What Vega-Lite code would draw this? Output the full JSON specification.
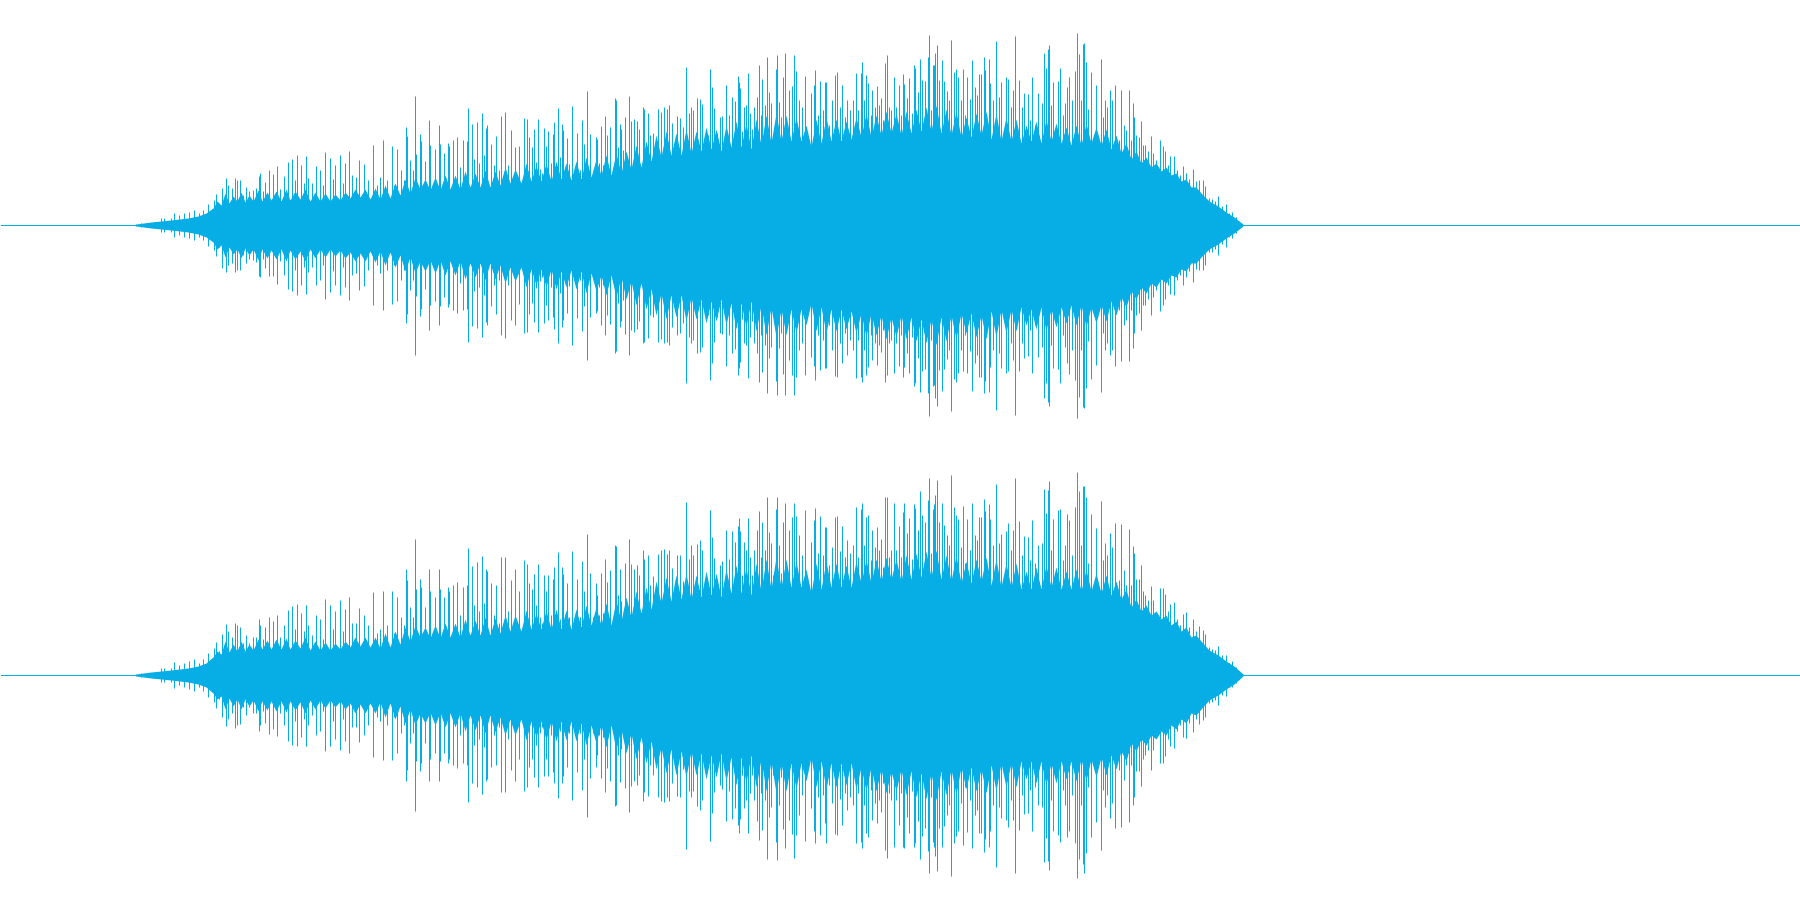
{"$schema":"https://vega.github.io/schema/vega-lite/v6.json","padding":0,"background":"white","spacing":0,"config":{"view":{"stroke":null},"concat":{"spacing":0}},
"datasets":{"base":[{"level":0}],"body":[
{"x":135,"a":1,"b":-1,"c":1,"d":-1},{"x":150,"a":3,"b":-3,"c":3,"d":-3},{"x":170,"a":5,"b":-5,"c":5,"d":-5},{"x":187,"a":7,"b":-7,"c":7,"d":-7},{"x":197,"a":9,"b":-9,"c":9,"d":-9},{"x":205,"a":12,"b":-12,"c":12,"d":-12},{"x":212,"a":17,"b":-17,"c":18,"d":-18},{"x":216,"a":24,"b":-24,"c":24,"d":-24},{"x":220,"a":20,"b":-20,"c":21,"d":-21},{"x":224,"a":32,"b":-32,"c":34,"d":-34},{"x":228,"a":22,"b":-22,"c":23,"d":-23},{"x":232,"a":29,"b":-29,"c":31,"d":-31},{"x":236,"a":24,"b":-24,"c":24,"d":-24},{"x":240,"a":33,"b":-33,"c":34,"d":-34},{"x":244,"a":23,"b":-23,"c":24,"d":-24},{"x":248,"a":30,"b":-30,"c":31,"d":-31},{"x":252,"a":24,"b":-24,"c":25,"d":-25},{"x":257,"a":35,"b":-35,"c":36,"d":-36},{"x":261,"a":24,"b":-24,"c":26,"d":-26},{"x":266,"a":33,"b":-33,"c":35,"d":-35},{"x":270,"a":25,"b":-25,"c":26,"d":-26},{"x":275,"a":34,"b":-34,"c":36,"d":-36},{"x":280,"a":24,"b":-24,"c":26,"d":-26},{"x":285,"a":36,"b":-36,"c":37,"d":-37},{"x":289,"a":25,"b":-25,"c":26,"d":-26},{"x":294,"a":34,"b":-34,"c":35,"d":-35},{"x":299,"a":26,"b":-26,"c":27,"d":-27},{"x":304,"a":36,"b":-36,"c":38,"d":-38},{"x":309,"a":24,"b":-24,"c":25,"d":-25},{"x":314,"a":33,"b":-33,"c":34,"d":-34},{"x":319,"a":24,"b":-24,"c":25,"d":-25},{"x":324,"a":32,"b":-32,"c":33,"d":-33},{"x":329,"a":24,"b":-24,"c":25,"d":-25},{"x":334,"a":31,"b":-31,"c":32,"d":-32},{"x":339,"a":25,"b":-25,"c":26,"d":-26},{"x":344,"a":33,"b":-33,"c":34,"d":-34},{"x":349,"a":27,"b":-27,"c":28,"d":-28},{"x":354,"a":36,"b":-36,"c":38,"d":-38},{"x":359,"a":28,"b":-28,"c":29,"d":-29},{"x":364,"a":36,"b":-36,"c":38,"d":-38},{"x":369,"a":26,"b":-26,"c":28,"d":-28},{"x":374,"a":37,"b":-37,"c":38,"d":-38},{"x":379,"a":26,"b":-26,"c":27,"d":-27},{"x":384,"a":40,"b":-40,"c":42,"d":-42},{"x":389,"a":27,"b":-27,"c":28,"d":-28},{"x":394,"a":42,"b":-42,"c":44,"d":-44},{"x":399,"a":30,"b":-30,"c":31,"d":-31},{"x":404,"a":46,"b":-46,"c":48,"d":-48},{"x":409,"a":32,"b":-32,"c":34,"d":-34},{"x":414,"a":48,"b":-48,"c":50,"d":-50},{"x":419,"a":36,"b":-36,"c":38,"d":-38},{"x":424,"a":46,"b":-46,"c":48,"d":-48},{"x":429,"a":35,"b":-35,"c":37,"d":-37},{"x":434,"a":48,"b":-48,"c":50,"d":-50},{"x":439,"a":35,"b":-35,"c":37,"d":-37},{"x":444,"a":50,"b":-50,"c":52,"d":-52},{"x":449,"a":36,"b":-36,"c":38,"d":-38},{"x":454,"a":50,"b":-50,"c":52,"d":-52},{"x":459,"a":36,"b":-36,"c":38,"d":-38},{"x":464,"a":54,"b":-54,"c":56,"d":-56},{"x":469,"a":38,"b":-38,"c":40,"d":-40},{"x":474,"a":52,"b":-52,"c":55,"d":-55},{"x":479,"a":38,"b":-38,"c":40,"d":-40},{"x":484,"a":55,"b":-55,"c":58,"d":-58},{"x":489,"a":38,"b":-38,"c":40,"d":-40},{"x":494,"a":54,"b":-54,"c":57,"d":-57},{"x":499,"a":40,"b":-40,"c":42,"d":-42},{"x":504,"a":58,"b":-58,"c":60,"d":-60},{"x":509,"a":42,"b":-42,"c":44,"d":-44},{"x":514,"a":56,"b":-56,"c":60,"d":-60},{"x":520,"a":42,"b":-42,"c":44,"d":-44},{"x":525,"a":62,"b":-62,"c":65,"d":-65},{"x":530,"a":44,"b":-44,"c":46,"d":-46},{"x":535,"a":60,"b":-60,"c":62,"d":-62},{"x":540,"a":44,"b":-44,"c":46,"d":-46},{"x":545,"a":62,"b":-62,"c":65,"d":-65},{"x":550,"a":44,"b":-44,"c":46,"d":-46},{"x":555,"a":64,"b":-64,"c":66,"d":-66},{"x":560,"a":46,"b":-46,"c":46,"d":-46},{"x":565,"a":62,"b":-62,"c":65,"d":-65},{"x":570,"a":45,"b":-45,"c":46,"d":-46},{"x":575,"a":64,"b":-64,"c":66,"d":-66},{"x":580,"a":46,"b":-46,"c":48,"d":-48},{"x":585,"a":68,"b":-68,"c":70,"d":-70},{"x":590,"a":48,"b":-48,"c":50,"d":-50},{"x":595,"a":66,"b":-66,"c":68,"d":-68},{"x":600,"a":50,"b":-50,"c":50,"d":-50},{"x":605,"a":70,"b":-70,"c":72,"d":-72},{"x":610,"a":50,"b":-50,"c":50,"d":-50},{"x":615,"a":72,"b":-72,"c":75,"d":-75},{"x":620,"a":52,"b":-52,"c":54,"d":-54},{"x":625,"a":74,"b":-74,"c":78,"d":-78},{"x":630,"a":56,"b":-56,"c":58,"d":-58},{"x":635,"a":80,"b":-80,"c":84,"d":-84},{"x":640,"a":58,"b":-58,"c":62,"d":-62},{"x":645,"a":84,"b":-84,"c":88,"d":-88},{"x":650,"a":64,"b":-64,"c":66,"d":-66},{"x":655,"a":90,"b":-90,"c":94,"d":-94},{"x":660,"a":68,"b":-68,"c":72,"d":-72},{"x":665,"a":94,"b":-94,"c":98,"d":-98},{"x":670,"a":70,"b":-70,"c":74,"d":-74},{"x":675,"a":92,"b":-92,"c":100,"d":-100},{"x":680,"a":70,"b":-70,"c":76,"d":-76},{"x":685,"a":96,"b":-96,"c":102,"d":-102},{"x":690,"a":72,"b":-72,"c":76,"d":-76},{"x":695,"a":94,"b":-94,"c":100,"d":-100},{"x":700,"a":74,"b":-74,"c":78,"d":-78},{"x":705,"a":98,"b":-98,"c":104,"d":-104},{"x":710,"a":76,"b":-76,"c":80,"d":-80},{"x":715,"a":96,"b":-96,"c":102,"d":-102},{"x":720,"a":74,"b":-74,"c":78,"d":-78},{"x":725,"a":100,"b":-100,"c":106,"d":-106},{"x":730,"a":78,"b":-78,"c":82,"d":-82},{"x":735,"a":104,"b":-104,"c":110,"d":-110},{"x":740,"a":78,"b":-78,"c":82,"d":-82},{"x":745,"a":102,"b":-102,"c":108,"d":-108},{"x":750,"a":76,"b":-76,"c":80,"d":-80},{"x":755,"a":106,"b":-106,"c":112,"d":-112},{"x":760,"a":80,"b":-80,"c":84,"d":-84},{"x":765,"a":110,"b":-110,"c":116,"d":-116},{"x":770,"a":82,"b":-82,"c":86,"d":-86},{"x":775,"a":112,"b":-112,"c":118,"d":-118},{"x":780,"a":84,"b":-84,"c":88,"d":-88},{"x":785,"a":110,"b":-110,"c":116,"d":-116},{"x":790,"a":84,"b":-84,"c":88,"d":-88},{"x":795,"a":108,"b":-108,"c":114,"d":-114},{"x":800,"a":84,"b":-84,"c":88,"d":-88},{"x":805,"a":100,"b":-100,"c":106,"d":-106},{"x":810,"a":78,"b":-78,"c":82,"d":-82},{"x":815,"a":106,"b":-106,"c":112,"d":-112},{"x":820,"a":82,"b":-82,"c":86,"d":-86},{"x":825,"a":108,"b":-108,"c":114,"d":-114},{"x":830,"a":84,"b":-84,"c":88,"d":-88},{"x":835,"a":106,"b":-106,"c":112,"d":-112},{"x":840,"a":84,"b":-84,"c":88,"d":-88},{"x":845,"a":104,"b":-104,"c":110,"d":-110},{"x":850,"a":86,"b":-86,"c":88,"d":-88},{"x":855,"a":108,"b":-108,"c":114,"d":-114},{"x":860,"a":88,"b":-88,"c":92,"d":-92},{"x":865,"a":112,"b":-112,"c":116,"d":-116},{"x":870,"a":88,"b":-88,"c":92,"d":-92},{"x":875,"a":110,"b":-110,"c":116,"d":-116},{"x":880,"a":90,"b":-90,"c":94,"d":-94},{"x":885,"a":114,"b":-114,"c":118,"d":-118},{"x":890,"a":92,"b":-92,"c":96,"d":-96},{"x":895,"a":112,"b":-112,"c":116,"d":-116},{"x":900,"a":90,"b":-90,"c":94,"d":-94},{"x":905,"a":114,"b":-114,"c":120,"d":-120},{"x":910,"a":92,"b":-92,"c":96,"d":-96},{"x":915,"a":116,"b":-116,"c":122,"d":-122},{"x":920,"a":94,"b":-94,"c":98,"d":-98},{"x":925,"a":118,"b":-118,"c":124,"d":-124},{"x":930,"a":94,"b":-94,"c":98,"d":-98},{"x":935,"a":120,"b":-120,"c":125,"d":-125},{"x":940,"a":92,"b":-92,"c":96,"d":-96},{"x":945,"a":116,"b":-116,"c":120,"d":-120},{"x":950,"a":90,"b":-90,"c":94,"d":-94},{"x":955,"a":114,"b":-114,"c":120,"d":-120},{"x":960,"a":88,"b":-88,"c":92,"d":-92},{"x":965,"a":108,"b":-108,"c":114,"d":-114},{"x":970,"a":88,"b":-88,"c":92,"d":-92},{"x":975,"a":112,"b":-112,"c":116,"d":-116},{"x":980,"a":90,"b":-90,"c":94,"d":-94},{"x":985,"a":114,"b":-114,"c":118,"d":-118},{"x":990,"a":86,"b":-86,"c":90,"d":-90},{"x":995,"a":112,"b":-112,"c":116,"d":-116},{"x":1000,"a":84,"b":-84,"c":88,"d":-88},{"x":1005,"a":108,"b":-108,"c":112,"d":-112},{"x":1010,"a":84,"b":-84,"c":88,"d":-88},{"x":1015,"a":106,"b":-106,"c":112,"d":-112},{"x":1020,"a":82,"b":-82,"c":86,"d":-86},{"x":1025,"a":100,"b":-100,"c":104,"d":-104},{"x":1030,"a":84,"b":-84,"c":86,"d":-86},{"x":1035,"a":104,"b":-104,"c":108,"d":-108},{"x":1040,"a":82,"b":-82,"c":86,"d":-86},{"x":1045,"a":106,"b":-106,"c":110,"d":-110},{"x":1050,"a":84,"b":-84,"c":88,"d":-88},{"x":1055,"a":102,"b":-102,"c":108,"d":-108},{"x":1060,"a":82,"b":-82,"c":86,"d":-86},{"x":1065,"a":98,"b":-98,"c":104,"d":-104},{"x":1070,"a":80,"b":-80,"c":86,"d":-86},{"x":1075,"a":100,"b":-100,"c":106,"d":-106},{"x":1080,"a":80,"b":-80,"c":84,"d":-84},{"x":1085,"a":102,"b":-102,"c":106,"d":-106},{"x":1090,"a":82,"b":-82,"c":84,"d":-84},{"x":1095,"a":98,"b":-98,"c":102,"d":-102},{"x":1100,"a":80,"b":-80,"c":82,"d":-82},{"x":1105,"a":96,"b":-96,"c":100,"d":-100},{"x":1110,"a":76,"b":-76,"c":80,"d":-80},{"x":1115,"a":90,"b":-90,"c":94,"d":-94},{"x":1120,"a":72,"b":-72,"c":76,"d":-76},{"x":1125,"a":82,"b":-82,"c":86,"d":-86},{"x":1130,"a":66,"b":-66,"c":68,"d":-68},{"x":1135,"a":74,"b":-74,"c":76,"d":-76},{"x":1140,"a":62,"b":-62,"c":64,"d":-64},{"x":1145,"a":68,"b":-68,"c":70,"d":-70},{"x":1150,"a":58,"b":-58,"c":60,"d":-60},{"x":1155,"a":62,"b":-62,"c":64,"d":-64},{"x":1160,"a":54,"b":-54,"c":56,"d":-56},{"x":1165,"a":58,"b":-58,"c":60,"d":-60},{"x":1170,"a":50,"b":-50,"c":50,"d":-50},{"x":1175,"a":52,"b":-52,"c":54,"d":-54},{"x":1180,"a":44,"b":-44,"c":44,"d":-44},{"x":1185,"a":46,"b":-46,"c":48,"d":-48},{"x":1190,"a":38,"b":-38,"c":38,"d":-38},{"x":1195,"a":38,"b":-38,"c":40,"d":-40},{"x":1200,"a":32,"b":-32,"c":34,"d":-34},{"x":1208,"a":24,"b":-24,"c":25,"d":-25},{"x":1217,"a":19,"b":-19,"c":20,"d":-20},{"x":1225,"a":13,"b":-13,"c":14,"d":-14},{"x":1233,"a":8,"b":-8,"c":9,"d":-9},{"x":1242,"a":1,"b":-1,"c":1,"d":-1}
],"spikes":[
{"x":135,"a":1,"b":-1,"c":1,"d":-1},{"x":140,"a":2,"b":-2,"c":2,"d":-2},{"x":146,"a":2,"b":-2,"c":2,"d":-2},{"x":160,"a":7,"b":-7,"c":7,"d":-7},{"x":163,"a":7,"b":-7,"c":7,"d":-7},{"x":170,"a":7,"b":-7,"c":7,"d":-7},{"x":173,"a":12,"b":-12,"c":13,"d":-13},{"x":178,"a":10,"b":-10,"c":10,"d":-10},{"x":183,"a":12,"b":-12,"c":12,"d":-12},{"x":188,"a":13,"b":-13,"c":14,"d":-14},{"x":193,"a":15,"b":-15,"c":16,"d":-16},{"x":198,"a":12,"b":-12,"c":12,"d":-12},{"x":202,"a":15,"b":-15,"c":16,"d":-16},{"x":207,"a":21,"b":-21,"c":22,"d":-22},{"x":210,"a":14,"b":-14,"c":14,"d":-14},{"x":213,"a":25,"b":-25,"c":27,"d":-27},{"x":215,"a":31,"b":-31,"c":33,"d":-33},{"x":218,"a":22,"b":-22,"c":24,"d":-24},{"x":221,"a":37,"b":-43,"c":41,"d":-42},{"x":225,"a":47,"b":-47,"c":51,"d":-51},{"x":227,"a":40,"b":-40,"c":44,"d":-44},{"x":231,"a":37,"b":-38,"c":38,"d":-38},{"x":234,"a":47,"b":-47,"c":52,"d":-53},{"x":236,"a":45,"b":-45,"c":50,"d":-50},{"x":239,"a":45,"b":-45,"c":48,"d":-49},{"x":242,"a":30,"b":-30,"c":32,"d":-32},{"x":245,"a":38,"b":-38,"c":40,"d":-40},{"x":248,"a":34,"b":-34,"c":32,"d":-32},{"x":252,"a":35,"b":-35,"c":38,"d":-38},{"x":255,"a":37,"b":-37,"c":38,"d":-38},{"x":258,"a":49,"b":-51,"c":56,"d":-56},{"x":259,"a":52,"b":-52,"c":50,"d":-50},{"x":262,"a":34,"b":-34,"c":36,"d":-36},{"x":264,"a":43,"b":-43,"c":48,"d":-48},{"x":268,"a":55,"b":-51,"c":58,"d":-59},{"x":272,"a":51,"b":-51,"c":54,"d":-54},{"x":276,"a":59,"b":-59,"c":60,"d":-61},{"x":279,"a":36,"b":-36,"c":38,"d":-38},{"x":283,"a":49,"b":-50,"c":50,"d":-50},{"x":287,"a":63,"b":-64,"c":65,"d":-66},{"x":291,"a":66,"b":-66,"c":69,"d":-70},{"x":294,"a":45,"b":-45,"c":46,"d":-46},{"x":296,"a":70,"b":-70,"c":71,"d":-71},{"x":300,"a":60,"b":-60,"c":62,"d":-62},{"x":303,"a":42,"b":-42,"c":44,"d":-44},{"x":305,"a":69,"b":-69,"c":70,"d":-71},{"x":307,"a":47,"b":-47,"c":50,"d":-50},{"x":311,"a":42,"b":-42,"c":40,"d":-40},{"x":315,"a":59,"b":-60,"c":60,"d":-60},{"x":319,"a":55,"b":-55,"c":56,"d":-56},{"x":322,"a":40,"b":-40,"c":36,"d":-36},{"x":324,"a":73,"b":-74,"c":76,"d":-76},{"x":329,"a":67,"b":-67,"c":70,"d":-71},{"x":332,"a":46,"b":-46,"c":46,"d":-46},{"x":334,"a":60,"b":-60,"c":64,"d":-64},{"x":339,"a":70,"b":-70,"c":75,"d":-75},{"x":342,"a":42,"b":-42,"c":44,"d":-44},{"x":344,"a":62,"b":-62,"c":66,"d":-66},{"x":348,"a":74,"b":-75,"c":78,"d":-78},{"x":351,"a":50,"b":-50,"c":52,"d":-52},{"x":355,"a":48,"b":-48,"c":52,"d":-52},{"x":358,"a":65,"b":-65,"c":67,"d":-67},{"x":363,"a":61,"b":-61,"c":60,"d":-60},{"x":367,"a":45,"b":-45,"c":50,"d":-50},{"x":372,"a":80,"b":-80,"c":83,"d":-82},{"x":376,"a":40,"b":-40,"c":42,"d":-42},{"x":379,"a":48,"b":-48,"c":46,"d":-46},{"x":382,"a":85,"b":-85,"c":84,"d":-85},{"x":386,"a":45,"b":-45,"c":50,"d":-50},{"x":391,"a":79,"b":-79,"c":84,"d":-85},{"x":393,"a":40,"b":-40,"c":42,"d":-42},{"x":396,"a":76,"b":-76,"c":78,"d":-78},{"x":400,"a":55,"b":-55,"c":58,"d":-58},{"x":403,"a":45,"b":-45,"c":50,"d":-50},{"x":405,"a":98,"b":-98,"c":106,"d":-106},{"x":406,"a":89,"b":-89,"c":95,"d":-95},{"x":409,"a":65,"b":-65,"c":68,"d":-68},{"x":412,"a":55,"b":-55,"c":58,"d":-58},{"x":414,"a":129,"b":-130,"c":136,"d":-136},{"x":415,"a":71,"b":-71,"c":86,"d":-86},{"x":419,"a":91,"b":-91,"c":96,"d":-96},{"x":420,"a":84,"b":-84,"c":88,"d":-88},{"x":424,"a":64,"b":-64,"c":68,"d":-68},{"x":428,"a":105,"b":-105,"c":106,"d":-106},{"x":429,"a":80,"b":-80,"c":84,"d":-84},{"x":434,"a":76,"b":-76,"c":78,"d":-78},{"x":438,"a":100,"b":-100,"c":106,"d":-106},{"x":439,"a":81,"b":-81,"c":86,"d":-86},{"x":443,"a":72,"b":-72,"c":78,"d":-78},{"x":447,"a":82,"b":-82,"c":88,"d":-88},{"x":448,"a":79,"b":-79,"c":84,"d":-84},{"x":452,"a":85,"b":-85,"c":90,"d":-90},{"x":456,"a":88,"b":-88,"c":93,"d":-93},{"x":459,"a":58,"b":-58,"c":60,"d":-60},{"x":462,"a":85,"b":-85,"c":88,"d":-88},{"x":466,"a":84,"b":-84,"c":90,"d":-90},{"x":467,"a":117,"b":-117,"c":127,"d":-127},{"x":471,"a":101,"b":-101,"c":109,"d":-108},{"x":473,"a":66,"b":-66,"c":70,"d":-70},{"x":476,"a":103,"b":-103,"c":113,"d":-112},{"x":478,"a":62,"b":-62,"c":64,"d":-64},{"x":481,"a":112,"b":-112,"c":119,"d":-119},{"x":483,"a":70,"b":-70,"c":72,"d":-72},{"x":485,"a":97,"b":-97,"c":106,"d":-106},{"x":486,"a":100,"b":-100,"c":104,"d":-104},{"x":490,"a":81,"b":-81,"c":92,"d":-92},{"x":493,"a":60,"b":-60,"c":60,"d":-60},{"x":495,"a":89,"b":-89,"c":90,"d":-90},{"x":498,"a":55,"b":-55,"c":52,"d":-52},{"x":500,"a":109,"b":-110,"c":118,"d":-117},{"x":504,"a":113,"b":-113,"c":118,"d":-117},{"x":507,"a":60,"b":-60,"c":64,"d":-64},{"x":510,"a":95,"b":-95,"c":95,"d":-95},{"x":514,"a":78,"b":-100,"c":106,"d":-106},{"x":518,"a":79,"b":-79,"c":84,"d":-84},{"x":520,"a":41,"b":-42,"c":43,"d":-43},
{"x":523,"a":107,"b":-108,"c":115,"d":-116},{"x":526,"a":106,"b":-107,"c":111,"d":-112},{"x":528,"a":88,"b":-89,"c":92,"d":-92},{"x":531,"a":78,"b":-78,"c":86,"d":-84},{"x":533,"a":96,"b":-97,"c":101,"d":-102},{"x":535,"a":63,"b":-63,"c":70,"d":-70},{"x":537,"a":106,"b":-107,"c":111,"d":-112},{"x":539,"a":56,"b":-56,"c":58,"d":-58},{"x":541,"a":52,"b":-52,"c":52,"d":-52},{"x":543,"a":97,"b":-98,"c":100,"d":-101},{"x":545,"a":79,"b":-80,"c":84,"d":-84},{"x":547,"a":94,"b":-95,"c":100,"d":-101},{"x":550,"a":62,"b":-62,"c":60,"d":-60},{"x":552,"a":91,"b":-92,"c":96,"d":-97},{"x":553,"a":103,"b":-104,"c":108,"d":-108},{"x":555,"a":60,"b":-60,"c":58,"d":-58},{"x":557,"a":117,"b":-118,"c":123,"d":-123},{"x":559,"a":68,"b":-68,"c":56,"d":-56},{"x":561,"a":101,"b":-102,"c":108,"d":-108},{"x":562,"a":95,"b":-95,"c":101,"d":-101},{"x":564,"a":58,"b":-58,"c":60,"d":-60},{"x":566,"a":87,"b":-88,"c":92,"d":-92},{"x":568,"a":61,"b":-61,"c":58,"d":-58},{"x":571,"a":119,"b":-120,"c":124,"d":-125},{"x":573,"a":42,"b":-42,"c":42,"d":-42},{"x":576,"a":92,"b":-93,"c":96,"d":-97},{"x":579,"a":55,"b":-55,"c":58,"d":-58},{"x":581,"a":105,"b":-106,"c":114,"d":-115},{"x":583,"a":81,"b":-81,"c":84,"d":-84},{"x":586,"a":134,"b":-135,"c":141,"d":-142},{"x":589,"a":91,"b":-92,"c":102,"d":-103},{"x":592,"a":48,"b":-48,"c":58,"d":-58},{"x":595,"a":88,"b":-88,"c":92,"d":-92},{"x":596,"a":86,"b":-86,"c":80,"d":-80},{"x":598,"a":62,"b":-62,"c":60,"d":-60},{"x":600,"a":99,"b":-100,"c":102,"d":-103},{"x":602,"a":60,"b":-60,"c":62,"d":-62},{"x":604,"a":109,"b":-110,"c":116,"d":-117},{"x":606,"a":90,"b":-90,"c":93,"d":-93},{"x":609,"a":98,"b":-99,"c":105,"d":-106},{"x":611,"a":46,"b":-46,"c":44,"d":-44},{"x":614,"a":127,"b":-128,"c":130,"d":-131},{"x":615,"a":125,"b":-126,"c":129,"d":-130},{"x":617,"a":78,"b":-78,"c":80,"d":-80},{"x":619,"a":101,"b":-102,"c":106,"d":-107},{"x":620,"a":96,"b":-96,"c":74,"d":-74},{"x":622,"a":75,"b":-75,"c":60,"d":-60},{"x":624,"a":108,"b":-109,"c":112,"d":-113},{"x":626,"a":68,"b":-68,"c":66,"d":-66},{"x":628,"a":129,"b":-130,"c":136,"d":-137},{"x":630,"a":104,"b":-105,"c":111,"d":-111},{"x":633,"a":106,"b":-107,"c":106,"d":-106},{"x":635,"a":72,"b":-72,"c":80,"d":-80},{"x":636,"a":104,"b":-104,"c":110,"d":-110},{"x":638,"a":96,"b":-96,"c":100,"d":-100},{"x":640,"a":55,"b":-55,"c":52,"d":-52},{"x":642,"a":118,"b":-118,"c":125,"d":-126},{"x":643,"a":116,"b":-117,"c":116,"d":-117},{"x":645,"a":70,"b":-70,"c":64,"d":-64},{"x":647,"a":112,"b":-113,"c":120,"d":-121},{"x":649,"a":90,"b":-90,"c":90,"d":-90},{"x":652,"a":92,"b":-92,"c":99,"d":-100},{"x":654,"a":64,"b":-64,"c":84,"d":-84},{"x":657,"a":116,"b":-117,"c":121,"d":-122},{"x":660,"a":113,"b":-114,"c":125,"d":-126},{"x":663,"a":118,"b":-118,"c":126,"d":-127},{"x":666,"a":116,"b":-117,"c":121,"d":-122},{"x":668,"a":120,"b":-120,"c":125,"d":-126},{"x":671,"a":102,"b":-102,"c":107,"d":-108},{"x":673,"a":80,"b":-80,"c":86,"d":-86},{"x":676,"a":109,"b":-110,"c":120,"d":-121},{"x":679,"a":107,"b":-108,"c":120,"d":-122},{"x":682,"a":98,"b":-98,"c":94,"d":-94},{"x":685,"a":158,"b":-158,"c":173,"d":-174},{"x":688,"a":112,"b":-112,"c":116,"d":-116},{"x":690,"a":118,"b":-118,"c":130,"d":-122},{"x":692,"a":115,"b":-115,"c":120,"d":-116},{"x":694,"a":73,"b":-73,"c":80,"d":-84},{"x":696,"a":127,"b":-128,"c":131,"d":-131},{"x":699,"a":126,"b":-127,"c":135,"d":-135},{"x":701,"a":121,"b":-122,"c":125,"d":-125},{"x":704,"a":76,"b":-76,"c":84,"d":-86},{"x":707,"a":90,"b":-90,"c":86,"d":-86},{"x":709,"a":156,"b":-155,"c":165,"d":-166},{"x":711,"a":138,"b":-138,"c":138,"d":-138},{"x":713,"a":117,"b":-117,"c":117,"d":-117},{"x":716,"a":92,"b":-92,"c":96,"d":-96},{"x":719,"a":108,"b":-108,"c":110,"d":-110},{"x":721,"a":109,"b":-109,"c":114,"d":-114},{"x":723,"a":80,"b":-80,"c":84,"d":-84},{"x":725,"a":140,"b":-141,"c":145,"d":-146},{"x":728,"a":110,"b":-110,"c":116,"d":-116},{"x":731,"a":128,"b":-128,"c":144,"d":-144},{"x":734,"a":124,"b":-124,"c":133,"d":-133},{"x":737,"a":149,"b":-150,"c":149,"d":-150},{"x":738,"a":143,"b":-143,"c":157,"d":-158},{"x":739,"a":137,"b":-137,"c":144,"d":-144},{"x":741,"a":94,"b":-94,"c":100,"d":-100},{"x":743,"a":118,"b":-118,"c":133,"d":-133},{"x":745,"a":120,"b":-120,"c":125,"d":-125},{"x":747,"a":152,"b":-153,"c":157,"d":-158},{"x":749,"a":112,"b":-112,"c":118,"d":-118},{"x":751,"a":96,"b":-96,"c":100,"d":-100},{"x":753,"a":118,"b":-118,"c":125,"d":-125},{"x":756,"a":128,"b":-128,"c":145,"d":-146},{"x":758,"a":160,"b":-157,"c":164,"d":-165},{"x":760,"a":110,"b":-110,"c":118,"d":-118},{"x":761,"a":146,"b":-147,"c":153,"d":-155},{"x":764,"a":120,"b":-120,"c":125,"d":-125},{"x":766,"a":168,"b":-168,"c":178,"d":-184},{"x":768,"a":133,"b":-133,"c":143,"d":-142},{"x":770,"a":122,"b":-122,"c":132,"d":-132},{"x":772,"a":90,"b":-90,"c":100,"d":-100},{"x":775,"a":156,"b":-156,"c":166,"d":-167},{"x":776,"a":170,"b":-170,"c":178,"d":-185},{"x":778,"a":123,"b":-123,"c":130,"d":-130},{"x":780,"a":108,"b":-108,"c":102,"d":-102},{"x":782,"a":148,"b":-149,"c":153,"d":-154},{"x":784,"a":172,"b":-170,"c":172,"d":-173},{"x":788,"a":135,"b":-135,"c":145,"d":-145},{"x":791,"a":139,"b":-150,"c":158,"d":-159},{"x":793,"a":170,"b":-170,"c":172,"d":-183},{"x":795,"a":154,"b":-152,"c":159,"d":-160},{"x":798,"a":125,"b":-125,"c":140,"d":-140},{"x":801,"a":118,"b":-118,"c":120,"d":-120},{"x":804,"a":149,"b":-150,"c":165,"d":-166},{"x":810,"a":132,"b":-132,"c":133,"d":-133},{"x":813,"a":140,"b":-141,"c":155,"d":-156},{"x":814,"a":155,"b":-155,"c":167,"d":-168},{"x":817,"a":110,"b":-110,"c":122,"d":-122},{"x":819,"a":144,"b":-145,"c":159,"d":-160},{"x":822,"a":115,"b":-115,"c":120,"d":-120},{"x":824,"a":143,"b":-143,"c":148,"d":-148},{"x":825,"a":143,"b":-143,"c":148,"d":-168},{"x":828,"a":100,"b":-100,"c":110,"d":-110},{"x":831,"a":125,"b":-125,"c":128,"d":-128},{"x":834,"a":150,"b":-151,"c":158,"d":-159},{"x":836,"a":153,"b":-152,"c":159,"d":-160},{"x":839,"a":118,"b":-118,"c":124,"d":-124},{"x":841,"a":140,"b":-138,"c":149,"d":-150},{"x":844,"a":108,"b":-108,"c":118,"d":-118},{"x":846,"a":125,"b":-130,"c":135,"d":-135},{"x":849,"a":115,"b":-115,"c":122,"d":-122},{"x":852,"a":125,"b":-125,"c":130,"d":-130},{"x":855,"a":152,"b":-153,"c":168,"d":-168},{"x":857,"a":115,"b":-115,"c":118,"d":-118},{"x":860,"a":152,"b":-152,"c":166,"d":-167},{"x":861,"a":163,"b":-157,"c":172,"d":-173},{"x":863,"a":125,"b":-125,"c":130,"d":-130},{"x":865,"a":150,"b":-150,"c":158,"d":-158},{"x":867,"a":142,"b":-142,"c":160,"d":-162},{"x":870,"a":110,"b":-110,"c":115,"d":-115},{"x":871,"a":135,"b":-135,"c":145,"d":-145},{"x":874,"a":118,"b":-118,"c":128,"d":-128},{"x":876,"a":139,"b":-140,"c":148,"d":-148},{"x":878,"a":120,"b":-120,"c":125,"d":-125},{"x":880,"a":127,"b":-127,"c":136,"d":-137},{"x":882,"a":105,"b":-105,"c":108,"d":-108},{"x":884,"a":162,"b":-157,"c":178,"d":-175},{"x":886,"a":170,"b":-150,"c":178,"d":-183},{"x":888,"a":118,"b":-118,"c":118,"d":-118},{"x":890,"a":115,"b":-115,"c":125,"d":-125},{"x":893,"a":148,"b":-148,"c":172,"d":-172},{"x":895,"a":118,"b":-118,"c":125,"d":-125},{"x":898,"a":140,"b":-141,"c":149,"d":-150},{"x":900,"a":110,"b":-110,"c":118,"d":-118},{"x":902,"a":151,"b":-152,"c":163,"d":-172},{"x":903,"a":141,"b":-142,"c":172,"d":-173},{"x":906,"a":127,"b":-128,"c":142,"d":-142},{"x":908,"a":147,"b":-148,"c":157,"d":-158},{"x":911,"a":112,"b":-112,"c":116,"d":-116},{"x":913,"a":160,"b":-161,"c":171,"d":-172},{"x":914,"a":157,"b":-158,"c":167,"d":-168},{"x":917,"a":133,"b":-133,"c":145,"d":-146},{"x":919,"a":166,"b":-167,"c":184,"d":-184},{"x":921,"a":145,"b":-146,"c":160,"d":-161},{"x":924,"a":144,"b":-144,"c":153,"d":-153},{"x":927,"a":168,"b":-168,"c":175,"d":-176},{"x":928,"a":190,"b":-191,"c":197,"d":-198},{"x":930,"a":115,"b":-115,"c":122,"d":-122},{"x":932,"a":160,"b":-161,"c":166,"d":-167},{"x":933,"a":160,"b":-160,"c":171,"d":-172},{"x":934,"a":172,"b":-173,"c":180,"d":-181},{"x":936,"a":180,"b":-181,"c":195,"d":-196},{"x":938,"a":145,"b":-145,"c":153,"d":-153},{"x":941,"a":165,"b":-166,"c":172,"d":-172},{"x":943,"a":144,"b":-144,"c":150,"d":-151},{"x":946,"a":134,"b":-134,"c":140,"d":-140},{"x":948,"a":125,"b":-125,"c":130,"d":-130},{"x":950,"a":185,"b":-186,"c":200,"d":-201},{"x":953,"a":153,"b":-154,"c":168,"d":-168},{"x":955,"a":156,"b":-157,"c":160,"d":-161},{"x":957,"a":148,"b":-148,"c":156,"d":-156},{"x":960,"a":125,"b":-125,"c":128,"d":-128},{"x":962,"a":156,"b":-146,"c":169,"d":-170},{"x":964,"a":110,"b":-110,"c":112,"d":-112},{"x":966,"a":148,"b":-148,"c":156,"d":-157},{"x":969,"a":126,"b":-126,"c":125,"d":-125},{"x":971,"a":165,"b":-166,"c":172,"d":-173},{"x":974,"a":138,"b":-138,"c":140,"d":-140},{"x":976,"a":130,"b":-130,"c":135,"d":-135},{"x":978,"a":151,"b":-152,"c":158,"d":-158},{"x":980,"a":151,"b":-152,"c":158,"d":-158},{"x":983,"a":168,"b":-168,"c":176,"d":-177},{"x":984,"a":155,"b":-156,"c":164,"d":-164},{"x":988,"a":166,"b":-167,"c":171,"d":-172},{"x":989,"a":142,"b":-142,"c":156,"d":-156},{"x":992,"a":125,"b":-125,"c":130,"d":-130},{"x":995,"a":184,"b":-185,"c":191,"d":-192},{"x":998,"a":128,"b":-128,"c":132,"d":-132},{"x":1000,"a":143,"b":-143,"c":141,"d":-143},{"x":1005,"a":148,"b":-148,"c":144,"d":-145},{"x":1007,"a":146,"b":-146,"c":152,"d":-152},{"x":1010,"a":118,"b":-118,"c":125,"d":-125},{"x":1012,"a":135,"b":-135,"c":145,"d":-145},{"x":1014,"a":189,"b":-190,"c":197,"d":-198},{"x":1018,"a":145,"b":-146,"c":154,"d":-155},{"x":1021,"a":118,"b":-118,"c":120,"d":-120},{"x":1023,"a":132,"b":-133,"c":139,"d":-139},{"x":1027,"a":131,"b":-131,"c":138,"d":-138},{"x":1029,"a":105,"b":-105,"c":115,"d":-115},{"x":1031,"a":148,"b":-148,"c":155,"d":-156},{"x":1034,"a":100,"b":-100,"c":112,"d":-112},{"x":1037,"a":132,"b":-132,"c":130,"d":-130},{"x":1041,"a":122,"b":-122,"c":132,"d":-132},{"x":1043,"a":172,"b":-173,"c":186,"d":-187},{"x":1045,"a":157,"b":-158,"c":162,"d":-163},{"x":1047,"a":176,"b":-177,"c":185,"d":-186},{"x":1048,"a":180,"b":-181,"c":194,"d":-195},{"x":1050,"a":120,"b":-120,"c":125,"d":-125},{"x":1052,"a":143,"b":-143,"c":156,"d":-156},{"x":1057,"a":144,"b":-144,"c":165,"d":-160},{"x":1059,"a":157,"b":-158,"c":166,"d":-167},{"x":1062,"a":110,"b":-110,"c":115,"d":-115},{"x":1064,"a":122,"b":-122,"c":130,"d":-130},{"x":1066,"a":138,"b":-138,"c":161,"d":-162},{"x":1068,"a":148,"b":-149,"c":155,"d":-156},{"x":1071,"a":125,"b":-125,"c":120,"d":-120},{"x":1074,"a":154,"b":-155,"c":168,"d":-168},{"x":1076,"a":192,"b":-193,"c":203,"d":-203},{"x":1078,"a":171,"b":-172,"c":184,"d":-184},{"x":1080,"a":125,"b":-125,"c":130,"d":-130},{"x":1082,"a":181,"b":-182,"c":189,"d":-189},{"x":1083,"a":182,"b":-183,"c":189,"d":-198},{"x":1085,"a":163,"b":-163,"c":178,"d":-178},{"x":1087,"a":116,"b":-116,"c":112,"d":-112},{"x":1090,"a":153,"b":-154,"c":161,"d":-162},{"x":1095,"a":140,"b":-140,"c":147,"d":-147},{"x":1100,"a":166,"b":-167,"c":174,"d":-175},{"x":1102,"a":108,"b":-108,"c":115,"d":-115},{"x":1104,"a":125,"b":-125,"c":132,"d":-132},{"x":1106,"a":118,"b":-118,"c":120,"d":-120},{"x":1109,"a":135,"b":-130,"c":142,"d":-143},{"x":1111,"a":125,"b":-125,"c":128,"d":-128},{"x":1114,"a":140,"b":-141,"c":152,"d":-153},{"x":1118,"a":85,"b":-85,"c":95,"d":-95},{"x":1120,"a":135,"b":-136,"c":151,"d":-152},{"x":1123,"a":100,"b":-100,"c":105,"d":-105},{"x":1125,"a":95,"b":-95,"c":90,"d":-90},{"x":1128,"a":135,"b":-136,"c":146,"d":-147},{"x":1130,"a":85,"b":-85,"c":90,"d":-90},{"x":1132,"a":122,"b":-123,"c":129,"d":-130},{"x":1133,"a":108,"b":-108,"c":122,"d":-122},{"x":1135,"a":90,"b":-90,"c":96,"d":-96},{"x":1138,"a":88,"b":-88,"c":96,"d":-96},{"x":1140,"a":104,"b":-105,"c":110,"d":-111},{"x":1142,"a":80,"b":-80,"c":84,"d":-84},{"x":1144,"a":80,"b":-80,"c":80,"d":-80},{"x":1147,"a":74,"b":-74,"c":75,"d":-75},{"x":1150,"a":89,"b":-90,"c":89,"d":-95},{"x":1152,"a":72,"b":-72,"c":75,"d":-75},{"x":1155,"a":65,"b":-65,"c":62,"d":-62},{"x":1159,"a":85,"b":-86,"c":87,"d":-88},{"x":1162,"a":79,"b":-80,"c":87,"d":-88},{"x":1164,"a":74,"b":-74,"c":81,"d":-81},{"x":1167,"a":60,"b":-60,"c":64,"d":-64},{"x":1169,"a":69,"b":-69,"c":71,"d":-71},{"x":1173,"a":69,"b":-70,"c":73,"d":-73},{"x":1176,"a":55,"b":-55,"c":56,"d":-56},{"x":1179,"a":50,"b":-50,"c":50,"d":-50},{"x":1182,"a":59,"b":-60,"c":61,"d":-62},{"x":1185,"a":52,"b":-52,"c":63,"d":-63},{"x":1188,"a":46,"b":-46,"c":48,"d":-48},{"x":1192,"a":56,"b":-57,"c":56,"d":-57},{"x":1195,"a":44,"b":-44,"c":44,"d":-44},{"x":1198,"a":45,"b":-45,"c":49,"d":-49},{"x":1202,"a":45,"b":-45,"c":45,"d":-45},{"x":1204,"a":39,"b":-40,"c":41,"d":-42},{"x":1208,"a":27,"b":-27,"c":28,"d":-28},{"x":1211,"a":26,"b":-27,"c":26,"d":-27},{"x":1214,"a":24,"b":-24,"c":25,"d":-25},{"x":1217,"a":29,"b":-30,"c":29,"d":-30},{"x":1221,"a":19,"b":-19,"c":20,"d":-20},{"x":1225,"a":21,"b":-22,"c":20,"d":-21},{"x":1228,"a":12,"b":-12,"c":12,"d":-12},{"x":1231,"a":13,"b":-13,"c":14,"d":-12},{"x":1235,"a":8,"b":-8,"c":8,"d":-8},{"x":1238,"a":3,"b":-3,"c":3,"d":-3},{"x":1241,"a":1,"b":-1,"c":1,"d":-1}
]},
"vconcat":[
{"width":1800,"height":450,"layer":[
{"data":{"name":"base"},"mark":{"type":"rule","color":"#06aee5","strokeWidth":1},"encoding":{"y":{"field":"level","type":"quantitative","scale":{"domain":[-224.5,225.5],"nice":false},"axis":null}}},
{"data":{"name":"body"},"mark":{"type":"area","color":"#06aee5","opacity":1},"encoding":{"x":{"field":"x","type":"quantitative","scale":{"domain":[-0.5,1799.5],"nice":false,"zero":false},"axis":null},"y":{"field":"a","type":"quantitative","scale":{"domain":[-224.5,225.5],"nice":false},"axis":null},"y2":{"field":"b"}}},
{"data":{"name":"spikes"},"mark":{"type":"rule","color":"#06aee5","strokeWidth":1},"encoding":{"x":{"field":"x","type":"quantitative","scale":{"domain":[-0.5,1799.5],"nice":false,"zero":false},"axis":null},"y":{"field":"a","type":"quantitative","scale":{"domain":[-224.5,225.5],"nice":false},"axis":null},"y2":{"field":"b"}}}
]},
{"width":1800,"height":450,"layer":[
{"data":{"name":"base"},"mark":{"type":"rule","color":"#06aee5","strokeWidth":1},"encoding":{"y":{"field":"level","type":"quantitative","scale":{"domain":[-224.5,225.5],"nice":false},"axis":null}}},
{"data":{"name":"body"},"mark":{"type":"area","color":"#06aee5","opacity":1},"encoding":{"x":{"field":"x","type":"quantitative","scale":{"domain":[-0.5,1799.5],"nice":false,"zero":false},"axis":null},"y":{"field":"c","type":"quantitative","scale":{"domain":[-224.5,225.5],"nice":false},"axis":null},"y2":{"field":"d"}}},
{"data":{"name":"spikes"},"mark":{"type":"rule","color":"#06aee5","strokeWidth":1},"encoding":{"x":{"field":"x","type":"quantitative","scale":{"domain":[-0.5,1799.5],"nice":false,"zero":false},"axis":null},"y":{"field":"c","type":"quantitative","scale":{"domain":[-224.5,225.5],"nice":false},"axis":null},"y2":{"field":"d"}}}
]}
]}
